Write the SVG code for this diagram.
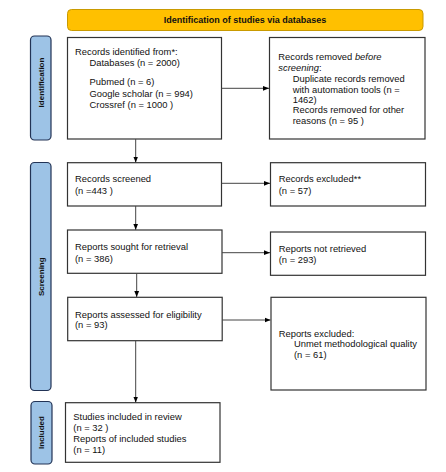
<svg xmlns="http://www.w3.org/2000/svg" width="446" height="472" viewBox="0 0 446 472">
<defs>
<marker id="ah" viewBox="0 0 10 10" refX="10" refY="5" markerWidth="6" markerHeight="6" orient="auto" markerUnits="userSpaceOnUse">
<path d="M0,1 L10,5 L0,9 z" fill="#000"/>
</marker>
<style>
.box{fill:#fff;stroke:#333;stroke-width:1.2}
.bar{fill:#9DC3E6;stroke:#223355;stroke-width:1.2}
.hdr{fill:#FFC000;stroke:#C99A00;stroke-width:1}
.t{font-family:"Liberation Sans",Arial,sans-serif;font-size:9.4px;fill:#111}
.b{font-family:"Liberation Sans",Arial,sans-serif;font-weight:bold;fill:#111}
.c{stroke:#444;stroke-width:1;fill:none;marker-end:url(#ah)}
</style>
</defs>
<rect width="446" height="472" fill="#fff"/>
<g id="header">
<rect class="hdr" x="67.5" y="9.5" width="355.5" height="21" rx="4"/>
<text class="b" x="245" y="23.3" font-size="9" text-anchor="middle">Identification of studies via databases</text>
</g>
<g id="bar-identification">
<rect class="bar" x="30.5" y="36" width="20.5" height="104" rx="4"/>
<text class="b" font-size="8" transform="translate(43.8,82.5) rotate(-90)" text-anchor="middle">Identification</text>
</g>
<g id="bar-screening">
<rect class="bar" x="30.5" y="162.5" width="20.5" height="228" rx="4"/>
<text class="b" font-size="8" transform="translate(43.6,276.7) rotate(-90)" text-anchor="middle">Screening</text>
</g>
<g id="bar-included">
<rect class="bar" x="31" y="401.5" width="21" height="62.5" rx="4"/>
<text class="b" font-size="8" transform="translate(44.3,432.5) rotate(-90)" text-anchor="middle">Included</text>
</g>
<g id="records-identified">
<rect class="box" x="67.5" y="37.5" width="154" height="101.5"/>
<text class="t" x="75" y="55">Records identified from*:</text>
<text class="t" x="89.5" y="65.7">Databases (n = 2000)</text>
<text class="t" x="89.5" y="85.4">Pubmed (n = 6)</text>
<text class="t" x="89.5" y="96.7">Google scholar (n = 994)</text>
<text class="t" x="89.5" y="108">Crossref (n = 1000 )</text>
</g>
<g id="records-removed">
<rect class="box" x="269.5" y="37.5" width="155.5" height="101.5"/>
<text class="t" x="278.3" y="60">Records removed <tspan font-style="italic">before</tspan></text>
<text class="t" x="278.3" y="70.5" font-style="italic">screening<tspan font-style="normal">:</tspan></text>
<text class="t" x="292.7" y="81.7">Duplicate records removed</text>
<text class="t" x="292.7" y="92.7">with automation tools (n =</text>
<text class="t" x="292.7" y="103.4">1462)</text>
<text class="t" x="292.7" y="113.4">Records removed for other</text>
<text class="t" x="292.7" y="124">reasons (n = 95 )</text>
</g>
<g id="records-screened">
<rect class="box" x="67.5" y="162.7" width="154" height="43.3"/>
<text class="t" x="75" y="182.4">Records screened</text>
<text class="t" x="75" y="193.7">(n =443 )</text>
</g>
<g id="records-excluded">
<rect class="box" x="270.5" y="162.7" width="155" height="43.3"/>
<text class="t" x="278.7" y="182.4">Records excluded**</text>
<text class="t" x="278.7" y="193.6">(n = 57)</text>
</g>
<g id="reports-sought">
<rect class="box" x="67.5" y="230" width="154.5" height="43.3"/>
<text class="t" x="75" y="250.4">Reports sought for retrieval</text>
<text class="t" x="75" y="261.7">(n = 386)</text>
</g>
<g id="reports-not-retrieved">
<rect class="box" x="270.5" y="232" width="155" height="43.3"/>
<text class="t" x="278.7" y="251.7">Reports not retrieved</text>
<text class="t" x="278.7" y="262.7">(n = 293)</text>
</g>
<g id="reports-assessed">
<rect class="box" x="67.7" y="297.3" width="154.5" height="43.4"/>
<text class="t" x="75" y="317.7">Reports assessed for eligibility</text>
<text class="t" x="75" y="328.4">(n = 93)</text>
</g>
<g id="reports-excluded">
<rect class="box" x="271" y="297.3" width="155" height="92.7"/>
<text class="t" x="278.7" y="336.7">Reports excluded:</text>
<text class="t" x="294" y="347.4">Unmet methodological quality</text>
<text class="t" x="294" y="357.7">(n = 61)</text>
</g>
<g id="studies-included">
<rect class="box" x="65.5" y="402.7" width="154.5" height="59.6"/>
<text class="t" x="73.3" y="420.1">Studies included in review</text>
<text class="t" x="73.3" y="431.1">(n = 32 )</text>
<text class="t" x="73.3" y="441.7">Reports of included studies</text>
<text class="t" x="73.3" y="452.7">(n = 11)</text>
</g>
<g id="connectors">
<line class="c" x1="221.5" y1="88.3" x2="269" y2="88.3"/>
<line class="c" x1="135.7" y1="139" x2="135.7" y2="162.5"/>
<line class="c" x1="221.5" y1="183.3" x2="270" y2="183.3"/>
<line class="c" x1="135.7" y1="206" x2="135.7" y2="229.8"/>
<line class="c" x1="222" y1="252.7" x2="270" y2="252.7"/>
<line class="c" x1="136.7" y1="273.3" x2="136.7" y2="297"/>
<line class="c" x1="222.2" y1="320" x2="270.5" y2="320"/>
<line class="c" x1="135.7" y1="340.7" x2="135.7" y2="402.5"/>
</g>
</svg>
